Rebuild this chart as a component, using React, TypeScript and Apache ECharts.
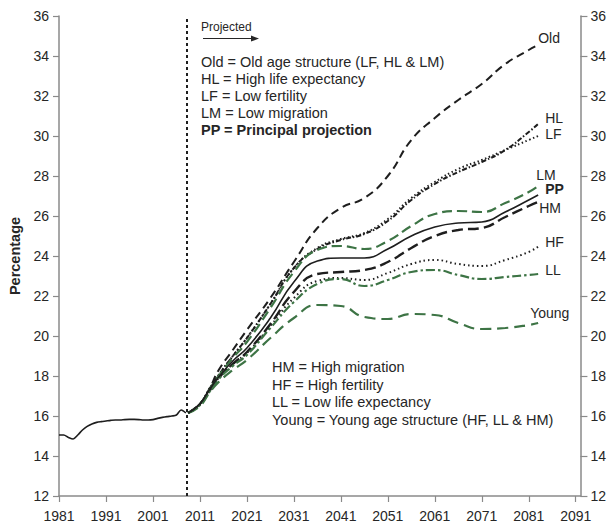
import React, { useEffect, useRef } from "react";
import * as echarts from "echarts";

const BASE_YEAR = 1981;
const X_MAX_YEAR = 2092;
const X_TICK_YEARS = [1981, 1991, 2001, 2011, 2021, 2031, 2041, 2051, 2061, 2071, 2081, 2091];
const Y_MIN = 12;
const Y_MAX = 36;
const Y_STEP = 2;
const PROJECTION_START = 2008.3;

const histYears = [
  1981, 1982, 1983, 1984, 1985, 1986, 1987, 1988, 1989, 1990, 1991, 1992, 1993, 1994,
  1995, 1996, 1997, 1998, 1999, 2000, 2001, 2002, 2003, 2004, 2005, 2006, 2007, 2008,
];
const histValues = [
  15.05, 15.05, 14.93, 14.85, 15.05, 15.3, 15.48, 15.6, 15.68, 15.72, 15.75, 15.78, 15.8, 15.8,
  15.82, 15.83, 15.83, 15.82, 15.8, 15.8, 15.82, 15.88, 15.93, 15.97, 16.0, 16.05, 16.3, 16.15,
];

const projYears = [
  2008.5, 2011, 2013, 2015, 2018, 2021, 2026, 2031, 2036, 2041, 2046, 2051, 2056, 2061, 2066,
  2071, 2076, 2081, 2083,
];
const oldValues = [
  16.15, 16.6, 17.35, 18.3, 19.3, 20.3, 21.9, 23.7, 25.4, 26.4, 26.9, 28.0, 29.8, 30.9, 31.8,
  32.6, 33.6, 34.3, 34.55,
];
const hlValues = [
  16.15, 16.6, 17.35, 18.05, 19.0, 19.9, 21.6, 23.4, 24.35, 24.8, 25.1, 25.75, 26.8, 27.6, 28.2,
  28.7, 29.3, 30.2, 30.6,
];
const lfValues = [
  16.15, 16.6, 17.35, 18.05, 19.0, 19.9, 21.6, 23.4, 24.4, 24.85, 25.15, 25.85, 26.9, 27.7, 28.35,
  28.8, 29.3, 29.8, 30.0,
];
const lmValues = [
  16.15, 16.6, 17.3, 18.0, 18.9, 19.7, 21.4, 23.2, 24.3, 24.5, 24.35, 24.75, 25.5, 26.1, 26.25,
  26.2, 26.65, 27.2, 27.5,
];
const ppValues = [
  16.15, 16.6, 17.3, 17.95, 18.75, 19.4, 20.9, 22.7, 23.75, 23.9, 23.9, 24.35, 25.0, 25.45, 25.65,
  25.7, 26.2, 26.8, 27.05,
];
const hmValues = [
  16.15, 16.6, 17.25, 17.9, 18.6, 19.2, 20.6, 22.2, 23.1, 23.2, 23.3, 23.7, 24.4, 25.0, 25.3,
  25.4, 25.95, 26.5, 26.7,
];
const hfValues = [
  16.15, 16.55, 17.25, 17.9, 18.6, 19.15, 20.5, 21.9, 22.75, 22.9, 22.8, 23.15, 23.6, 23.8, 23.6,
  23.5, 23.8, 24.2, 24.47,
];
const llValues = [
  16.15, 16.55, 17.2, 17.85, 18.5, 19.05, 20.4, 21.7, 22.6, 22.85, 22.5, 22.8, 23.2, 23.3, 23.05,
  22.85, 22.95, 23.05, 23.1,
];
const youngValues = [
  16.15, 16.5, 17.15, 17.7, 18.3, 18.8, 19.9, 20.9, 21.55, 21.5, 20.95, 20.85, 21.1, 21.05, 20.65,
  20.35, 20.4, 20.55, 20.65,
];

const topNotes = [
  "Old = Old age structure (LF, HL & LM)",
  "HL = High life expectancy",
  "LF = Low fertility",
  "LM = Low migration",
  "PP = Principal projection",
];
const bottomNotes = [
  "HM = High migration",
  "HF = High fertility",
  "LL = Low life expectancy",
  "Young = Young age structure (HF, LL & HM)",
];

const BLACK = "#1e1e1e";
const GREEN = "#3d7445";
const AXIS = "#8a8a8a";
const TEXT = "#262626";
const FONT = "'Liberation Sans', Arial, Helvetica, sans-serif";

type Spec = {
  name: string;
  values: number[];
  color: string;
  width: number;
  dash: number[] | "solid";
  labelOffset: [number, number];
  bold?: boolean;
};

const specs: Spec[] = [
  { name: "Old", values: oldValues, color: BLACK, width: 2, dash: [8, 5], labelOffset: [0, -7] },
  { name: "HL", values: hlValues, color: BLACK, width: 2, dash: [5, 2, 1.5, 2], labelOffset: [7, -6] },
  { name: "LF", values: lfValues, color: BLACK, width: 2, dash: [1.5, 2.5], labelOffset: [7, -2] },
  { name: "LM", values: lmValues, color: GREEN, width: 2.2, dash: [10, 5], labelOffset: [-2, -11] },
  { name: "PP", values: ppValues, color: BLACK, width: 1.6, dash: "solid", labelOffset: [7, -6], bold: true },
  { name: "HM", values: hmValues, color: BLACK, width: 2.4, dash: [11, 5], labelOffset: [1, 6] },
  { name: "HF", values: hfValues, color: BLACK, width: 2, dash: [1.5, 3], labelOffset: [7, -5] },
  { name: "LL", values: llValues, color: GREEN, width: 2.2, dash: [9, 3, 2.5, 3], labelOffset: [7, -4] },
  { name: "Young", values: youngValues, color: GREEN, width: 2.2, dash: [11, 6], labelOffset: [-8, -10] },
];

export default function App() {
  const ref = useRef<HTMLDivElement>(null);

  useEffect(() => {
    if (!ref.current) return;
    const chart = echarts.init(ref.current, undefined, { renderer: "svg" });

    const tickOffsets = X_TICK_YEARS.map((y) => y - BASE_YEAR);

    const histSeries = {
      name: "Historical",
      type: "line",
      data: histYears.map((y, i) => [y - BASE_YEAR, histValues[i]]),
      showSymbol: false,
      smooth: 0.3,
      lineStyle: { color: BLACK, width: 1.6 },
      z: 3,
      markLine: {
        silent: true,
        symbol: "none",
        label: { show: false },
        lineStyle: { color: BLACK, type: [3, 3], width: 2 },
        data: [{ xAxis: PROJECTION_START - BASE_YEAR }],
      },
    };

    const projSeries = specs.map((s) => ({
      name: s.name,
      type: "line",
      data: projYears.map((y, i) => [y - BASE_YEAR, s.values[i]]),
      showSymbol: false,
      smooth: 0.5,
      lineStyle: { color: s.color, width: s.width, type: s.dash },
      z: s.dash === "solid" ? 4 : 3,
      endLabel: {
        show: true,
        formatter: s.name,
        distance: 0,
        offset: s.labelOffset,
        fontSize: 14,
        fontFamily: FONT,
        fontWeight: s.bold ? "bold" : "normal",
        color: TEXT,
        align: "left",
      },
    }));

    const graphic: any[] = [
      {
        type: "text",
        x: 201,
        y: 27,
        style: { text: "Projected", font: `12px ${FONT}`, fill: TEXT, verticalAlign: "middle" },
      },
      {
        type: "line",
        shape: { x1: 203, y1: 38.5, x2: 252, y2: 38.5 },
        style: { stroke: TEXT, lineWidth: 1.2 },
      },
      {
        type: "polygon",
        shape: { points: [[251, 35.5], [259, 38.5], [251, 41.5]] },
        style: { fill: TEXT },
      },
      {
        type: "text",
        x: 15,
        y: 256,
        rotation: Math.PI / 2,
        style: {
          text: "Percentage",
          font: `bold 14.5px ${FONT}`,
          fill: TEXT,
          align: "center",
          verticalAlign: "middle",
        },
      },
      ...topNotes.map((t, i) => ({
        type: "text",
        x: 201,
        y: 62 + i * 17,
        style: {
          text: t,
          font: `${i === topNotes.length - 1 ? "bold " : ""}14.5px ${FONT}`,
          fill: TEXT,
          verticalAlign: "middle",
        },
      })),
      ...bottomNotes.map((t, i) => ({
        type: "text",
        x: 272,
        y: 367 + i * 17.5,
        style: { text: t, font: `14.5px ${FONT}`, fill: TEXT, verticalAlign: "middle" },
      })),
    ];

    const yAxisBase = {
      type: "value",
      min: Y_MIN,
      max: Y_MAX,
      interval: Y_STEP,
      axisLine: { show: true, lineStyle: { color: AXIS, width: 1.5 } },
      axisTick: { show: true, length: 6, lineStyle: { color: AXIS, width: 1.2 } },
      axisLabel: { fontSize: 14, color: TEXT, fontFamily: FONT, margin: 10 },
      splitLine: { show: false },
    };

    chart.setOption({
      animation: false,
      backgroundColor: "#ffffff",
      grid: { left: 59, right: 27, top: 16, bottom: 28, containLabel: false },
      xAxis: {
        type: "value",
        min: 0,
        max: X_MAX_YEAR - BASE_YEAR,
        axisLine: { show: true, onZero: false, lineStyle: { color: AXIS, width: 1.5 } },
        axisTick: {
          show: true,
          length: 6,
          customValues: tickOffsets,
          lineStyle: { color: AXIS, width: 1.2 },
        },
        axisLabel: {
          customValues: tickOffsets,
          formatter: (v: number) => String(Math.round(v) + BASE_YEAR),
          fontSize: 14,
          color: TEXT,
          fontFamily: FONT,
          margin: 13,
        },
        splitLine: { show: false },
      },
      yAxis: [
        { ...yAxisBase, position: "left" },
        { ...yAxisBase, position: "right", axisTick: { ...yAxisBase.axisTick, length: 7 } },
      ],
      graphic,
      series: [histSeries, ...projSeries],
    });

    return () => chart.dispose();
  }, []);

  return (
    <div
      ref={ref}
      style={{ position: "absolute", left: 0, top: 0, width: 609, height: 524, background: "#fff" }}
    />
  );
}
